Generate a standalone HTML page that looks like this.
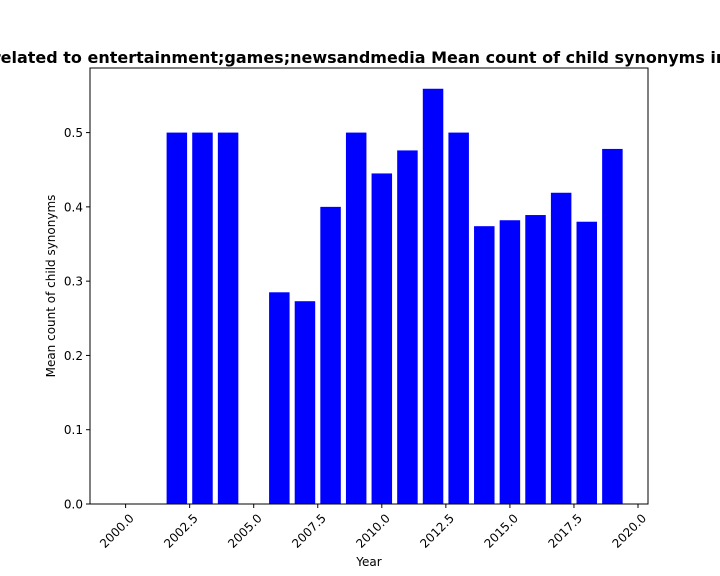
<!DOCTYPE html>
<html><head><meta charset="utf-8"><style>
body{margin:0;background:#fff;}
svg{display:block;font-family:"DejaVu Sans","Liberation Sans",sans-serif;}
</style></head><body>
<svg id="chart" width="720" height="576">
<text x="360" y="63" text-anchor="middle" font-size="16" font-weight="bold">related to entertainment;games;newsandmedia Mean count of child synonyms in</text>
<g id="bars"></g>
<rect x="90" y="68" width="558" height="436" fill="none" stroke="#000" stroke-width="1"/>
<g id="xticks"></g><g id="yticks"></g>
<text x="369" y="566" text-anchor="middle" font-size="12">Year</text>
<text transform="translate(55,286) rotate(-90)" text-anchor="middle" font-size="12">Mean count of child synonyms</text>
</svg>
<script>
const years=[2000,2001,2002,2003,2004,2005,2006,2007,2008,2009,2010,2011,2012,2013,2014,2015,2016,2017,2018,2019];
const values=[0,0,0.5,0.5,0.5,0,0.285,0.273,0.4,0.5,0.445,0.476,0.559,0.5,0.374,0.382,0.389,0.419,0.38,0.478];
const xTicks=[2000,2002.5,2005,2007.5,2010,2012.5,2015,2017.5,2020];
const yTicks=[0,0.1,0.2,0.3,0.4,0.5];
const NS="http://www.w3.org/2000/svg";
const L=90,R=648,T=68,B=504;
const xmin=Math.min(...years)-0.4,xmax=Math.max(...years)+0.4,xpad=(xmax-xmin)*0.05;
const x0=xmin-xpad,x1=xmax+xpad;
const ymax=Math.max(...values)*1.05;
const X=v=>L+(v-x0)/(x1-x0)*(R-L);
const Y=v=>B-v/ymax*(B-T);
const bars=document.getElementById('bars');
years.forEach((yr,i)=>{
 const r=document.createElementNS(NS,'rect');
 r.setAttribute('x',X(yr-0.4));r.setAttribute('width',X(yr+0.4)-X(yr-0.4));
 r.setAttribute('y',Y(values[i]));r.setAttribute('height',B-Y(values[i]));
 r.setAttribute('fill','#0000ff');
 
 
 bars.appendChild(r);
});
const xt=document.getElementById('xticks');
xTicks.forEach(t=>{
 const px=X(t);
 const l=document.createElementNS(NS,'line');
 l.setAttribute('x1',px);l.setAttribute('x2',px);l.setAttribute('y1',B);l.setAttribute('y2',B+4);l.setAttribute('stroke','#000');
 xt.appendChild(l);
 const tx=document.createElementNS(NS,'text');
 tx.setAttribute('transform','translate('+(px+9)+','+(B+15)+') rotate(-45)');
 tx.setAttribute('text-anchor','end');tx.setAttribute('font-size','12');
 
 
 tx.textContent=t.toFixed(1);
 xt.appendChild(tx);
});
const yt=document.getElementById('yticks');
yTicks.forEach(t=>{
 const py=Y(t);
 const l=document.createElementNS(NS,'line');
 l.setAttribute('x1',L-4);l.setAttribute('x2',L);l.setAttribute('y1',py);l.setAttribute('y2',py);l.setAttribute('stroke','#000');
 yt.appendChild(l);
 const tx=document.createElementNS(NS,'text');
 tx.setAttribute('x',L-7);tx.setAttribute('y',py+4.5);
 tx.setAttribute('text-anchor','end');tx.setAttribute('font-size','12');
 
 
 tx.textContent=t.toFixed(1);
 yt.appendChild(tx);
});
</script>
</body></html>
